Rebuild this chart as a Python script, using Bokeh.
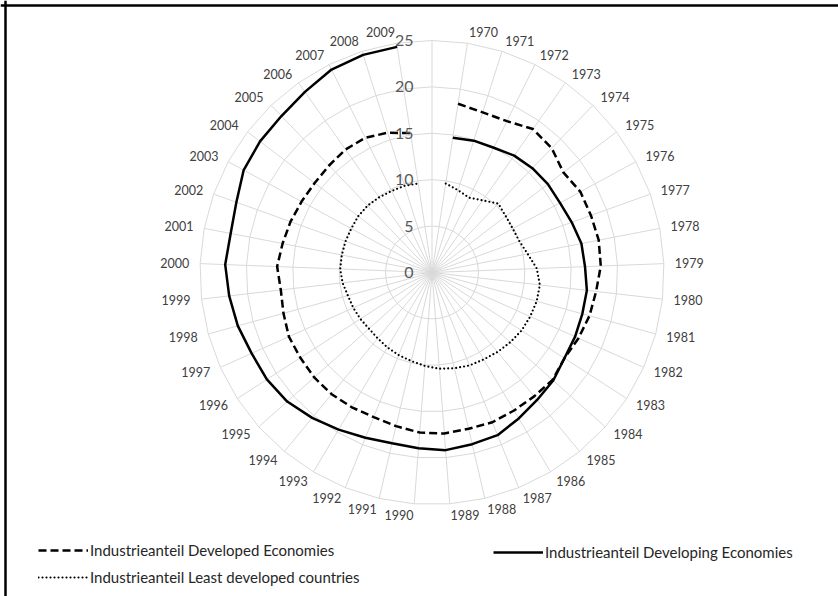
import numpy as np
from bokeh.plotting import figure
from bokeh.models import ColumnDataSource, Legend, LegendItem, Range1d, Span
from bokeh.embed import file_html
from bokeh.resources import INLINE
from bokeh.core.properties import value

# ---------------- data ----------------
years = list(range(1970, 2010))
developed = [18.4, 18.1, 18.2, 18.9, 18.6, 17.8, 18.2, 18.2, 18.3, 18.2,
             17.8, 17.6, 17.3, 17.0, 17.4, 17.3, 17.3, 17.4, 17.3, 17.4,
             17.3, 17.0, 16.8, 16.9, 17.0, 17.0, 16.9, 16.9, 16.6, 16.4,
             16.7, 16.4, 16.2, 16.0, 15.9, 16.0, 16.2, 16.2, 15.8, 15.2]
developing = [14.7, 14.9, 15.0, 15.4, 15.6, 15.7, 15.7, 16.0, 16.4, 16.5,
              16.8, 16.8, 16.9, 17.0, 17.5, 17.8, 18.3, 18.9, 19.0, 19.2,
              19.0, 18.9, 19.2, 19.7, 20.3, 20.9, 21.2, 21.3, 21.7, 22.0,
              22.3, 22.1, 22.4, 23.1, 23.3, 23.4, 23.8, 24.4, 24.6, 24.6]
least = [9.7, 9.3, 9.0, 9.5, 10.3, 10.0, 9.9, 10.0, 10.5, 11.3,
         11.7, 11.7, 11.6, 11.5, 11.3, 11.1, 10.9, 10.8, 10.6, 10.4,
         10.1, 9.8, 9.6, 9.4, 9.2, 9.1, 9.2, 9.3, 9.4, 9.7,
         9.9, 9.9, 9.9, 9.9, 10.0, 10.0, 9.9, 9.8, 9.8, 9.7]
radial_ticks = [0, 5, 10, 15, 20, 25]
series_names = ["Industrieanteil Developed Economies",
                "Industrieanteil Developing Economies",
                "Industrieanteil Least developed countries"]

# ---------------- geometry ----------------
W, H = 838, 596
CX, CY = 431.5, 272                # centre in canvas pixels
PX = 9.28                          # pixels per unit
RMAX = radial_ticks[-1]
n_cat = len(years) + 1             # first (top) category is empty
theta = 2 * np.pi * np.arange(n_cat) / n_cat

p = figure(width=W, height=H, output_backend="svg", toolbar_location=None,
           x_range=Range1d(-CX / PX, (W - CX) / PX),
           y_range=Range1d(-(H - CY) / PX, CY / PX),
           x_axis_type=None, y_axis_type=None, min_border=0)
p.grid.visible = False
p.outline_line_color = None
p.background_fill_color = "white"
p.border_fill_color = "white"

# chart-area border (top and left edges visible)
p.add_layout(Span(location=(CY - 5) / PX, dimension="width", line_color="black", line_width=2.5))
p.add_layout(Span(location=(5 - CX) / PX, dimension="height", line_color="black", line_width=2.5))

GRID = "#d9d9d9"
ring_xs, ring_ys = [], []
for r in radial_ticks[1:]:
    t = np.append(theta, theta[0])
    ring_xs.append(list(r * np.sin(t)))
    ring_ys.append(list(r * np.cos(t)))
p.multi_line(ring_xs, ring_ys, line_color=GRID, line_width=1)
p.multi_line([[0, RMAX * np.sin(t)] for t in theta],
             [[0, RMAX * np.cos(t)] for t in theta], line_color=GRID, line_width=1)

th = theta[1:]
def xy(vals):
    v = np.array(vals)
    return v * np.sin(th), v * np.cos(th)

xd, yd = xy(developed)
xg, yg = xy(developing)
xl, yl = xy(least)
r_dev = p.line(xd, yd, line_color="black", line_width=2.5, line_dash="8 4")
r_dvg = p.line(xg, yg, line_color="black", line_width=2.5)
r_ldc = p.line(xl, yl, line_color="black", line_width=2.2, line_dash="0 4", line_cap="round")

p.text(x=[-18.5 / PX] * len(radial_ticks), y=radial_ticks,
       text=[str(t) for t in radial_ticks], text_align="right", text_baseline="middle",
       text_font=value("Lato"), text_font_size="16px", text_color="#595959")

RL = 243 / PX
lx = RL * np.sin(th)
ly = RL * np.cos(th)
right = np.sin(th) > 0
labels = [str(y) for y in years]
src_r = ColumnDataSource(dict(x=lx[right], y=ly[right], t=[l for l, m in zip(labels, right) if m]))
src_l = ColumnDataSource(dict(x=lx[~right], y=ly[~right], t=[l for l, m in zip(labels, right) if not m]))
for src, al in ((src_r, "left"), (src_l, "right")):
    p.text(x="x", y="y", text="t", source=src, text_align=al, text_baseline="middle",
           text_font=value("Lato"), text_font_size="12.5px", text_color="#404040")

common = dict(border_line_color=None, background_fill_alpha=0, padding=0, margin=0,
              glyph_width=50, glyph_height=16, label_height=16, spacing=9,
              label_standoff=2, label_text_font="Lato", label_text_font_size="15px",
              label_text_color="#262626")
leg1 = Legend(items=[LegendItem(label=series_names[0], renderers=[r_dev]),
                     LegendItem(label=series_names[2], renderers=[r_ldc])],
              location=(38, 10), **common)
leg2 = Legend(items=[LegendItem(label=series_names[1], renderers=[r_dvg])],
              location=(493, 35), **common)
p.add_layout(leg1, "center")
p.add_layout(leg2, "center")

open("out.html", "w").write(file_html(p, INLINE))
